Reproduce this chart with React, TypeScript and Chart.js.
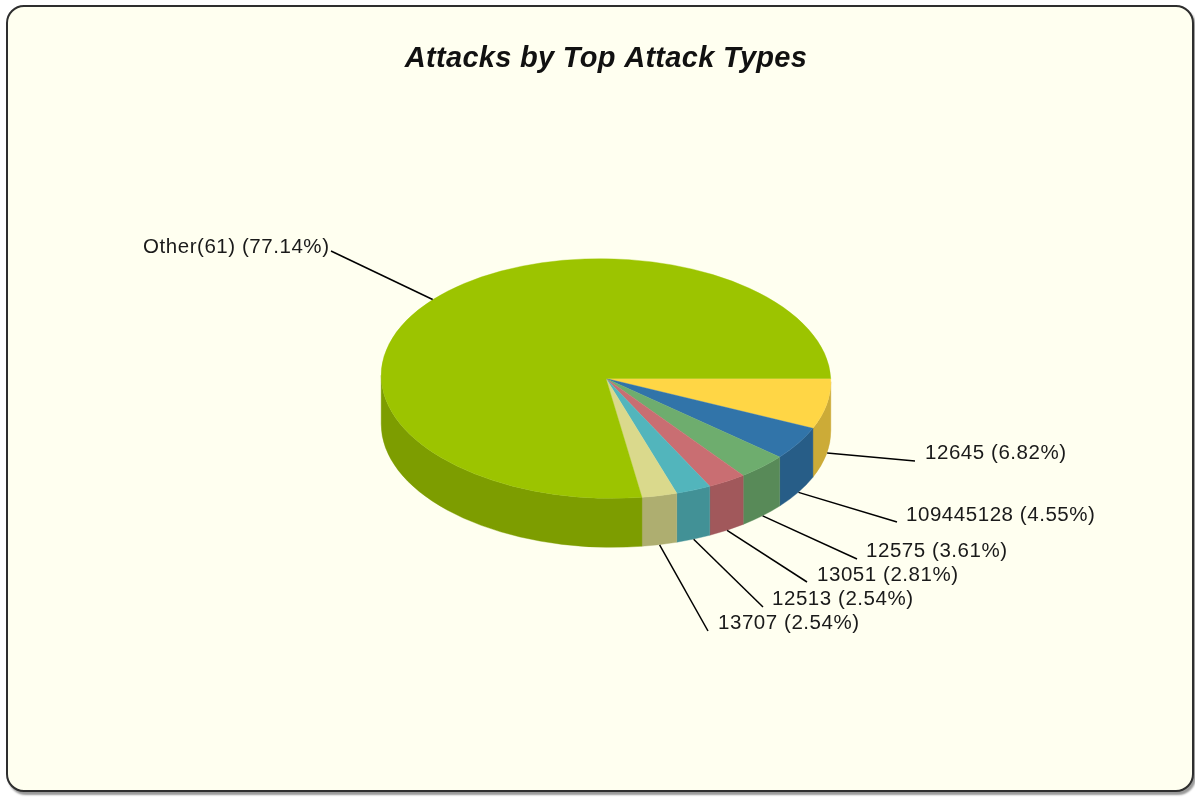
import React, { useEffect, useRef } from "react";
import { Chart, registerables } from "chart.js";

Chart.register(...registerables);

const chartTitle = "Attacks by Top Attack Types";
const categories = ["12645", "109445128", "12575", "13051", "12513", "13707", "Other(61)"];
const shares = [6.82, 4.55, 3.61, 2.81, 2.54, 2.54, 77.14];
const topColors = ["#FFD645", "#3174A9", "#6EAD6E", "#C96E72", "#52B5BC", "#DAD98C", "#9CC400"];
const sideColors = ["#CCAB37", "#275D87", "#588A58", "#A1585B", "#429196", "#AEAE70", "#7D9D00"];
const labelAnchors = [
  [915, 461, 925, 453],
  [897, 522, 906, 515],
  [857, 559, 866, 551],
  [807, 582, 817, 575],
  [763, 607, 772, 599],
  [708, 631, 718, 623],
  [331, 251, 143, 247],
];

const RX = 225;
const RY = 120;
const SHEAR = 6;
const DEPTH = 49;
const CX = 606;
const CY = 378.5;

const App = () => {
  const ref = useRef<HTMLCanvasElement>(null);
  useEffect(() => {
    document.body.style.margin = "0";
    const project = (ctx: any, arc: any) => {
      ctx.translate(CX, CY);
      ctx.transform(1, 0, SHEAR / RX, RY / RX, 0, 0);
      ctx.translate(-arc.x, -arc.y);
    };
    const plugin = {
      id: "pie3d",
      beforeDraw(chart: any) {
        chart.ctx.letterSpacing = "0.3px";
      },
      beforeDatasetsDraw(chart: any) {
        const ctx = chart.ctx;
        ctx.letterSpacing = "0px";
        const arcs = chart.getDatasetMeta(0).data;
        const phi = Math.atan(SHEAR / RX);
        const dv = (DEPTH * RX) / RY;
        const du = (-SHEAR / RX) * dv;
        ctx.save();
        project(ctx, arcs[0]);
        arcs.forEach((arc: any, i: number) => {
          const a = Math.max(arc.startAngle, phi);
          const b = Math.min(arc.endAngle, Math.PI + phi);
          if (b <= a) return;
          ctx.beginPath();
          ctx.arc(arc.x, arc.y, arc.outerRadius, a, b);
          ctx.arc(arc.x + du, arc.y + dv, arc.outerRadius, b, a, true);
          ctx.closePath();
          ctx.fillStyle = sideColors[i];
          ctx.fill();
          ctx.strokeStyle = sideColors[i];
          ctx.lineWidth = 0.5;
          ctx.stroke();
        });
        ctx.restore();
        ctx.save();
        project(ctx, arcs[0]);
      },
      afterDatasetsDraw(chart: any) {
        const ctx = chart.ctx;
        ctx.restore();
        const arcs = chart.getDatasetMeta(0).data;
        ctx.save();
        ctx.font = '20.5px "Liberation Sans", Arial, sans-serif';
        ctx.textBaseline = "middle";
        ctx.fillStyle = "#1a1a1a";
        ctx.strokeStyle = "#000";
        ctx.lineWidth = 1.5;
        arcs.forEach((arc: any, i: number) => {
          const mid = (arc.startAngle + arc.endAngle) / 2;
          const lower = Math.sin(mid) > 0;
          const sx = CX + RX * Math.cos(mid) + SHEAR * Math.sin(mid);
          const sy = CY + RY * Math.sin(mid) + (lower ? DEPTH : 0);
          const [lx, ly, tx, ty] = labelAnchors[i];
          ctx.letterSpacing = "0px";
          ctx.beginPath();
          ctx.moveTo(sx, sy);
          ctx.lineTo(lx, ly);
          ctx.stroke();
          ctx.letterSpacing = "0.55px";
          ctx.fillText(`${categories[i]} (${shares[i].toFixed(2)}%)`, tx, ty);
        });
        ctx.restore();
      },
    };
    const chart = new Chart(ref.current!, {
      type: "pie",
      data: {
        labels: categories,
        datasets: [{ data: shares, backgroundColor: topColors, borderColor: topColors, borderWidth: 0.5 }],
      },
      options: {
        responsive: false,
        animation: false,
        rotation: 90,
        layout: { padding: { left: 381, right: 1195 - 831, top: 0, bottom: 100 } },
        plugins: {
          legend: { display: false },
          tooltip: { enabled: false },
          title: {
            display: true,
            text: chartTitle,
            color: "#111",
            align: "center",
            font: { family: '"Liberation Sans", Arial, sans-serif', size: 29, style: "italic", weight: "bold" },
            padding: { top: 42, bottom: 0 },
          },
        },
      },
      plugins: [plugin],
    } as any);
    return () => chart.destroy();
  }, []);
  return (
    <div style={{ position: "relative", width: 1195, height: 797, overflow: "hidden" }}>
      <div
        style={{
          position: "absolute",
          left: 6,
          top: 5,
          width: 1184,
          height: 783,
          background: "#FFFFF0",
          border: "2px solid #2e2e2e",
          borderRadius: 18,
          boxShadow: "2px 3px 2px #999",
        }}
      />
      <canvas ref={ref} width={1195} height={797} style={{ position: "absolute", left: 0, top: 0 }} />
    </div>
  );
};

export default App;
